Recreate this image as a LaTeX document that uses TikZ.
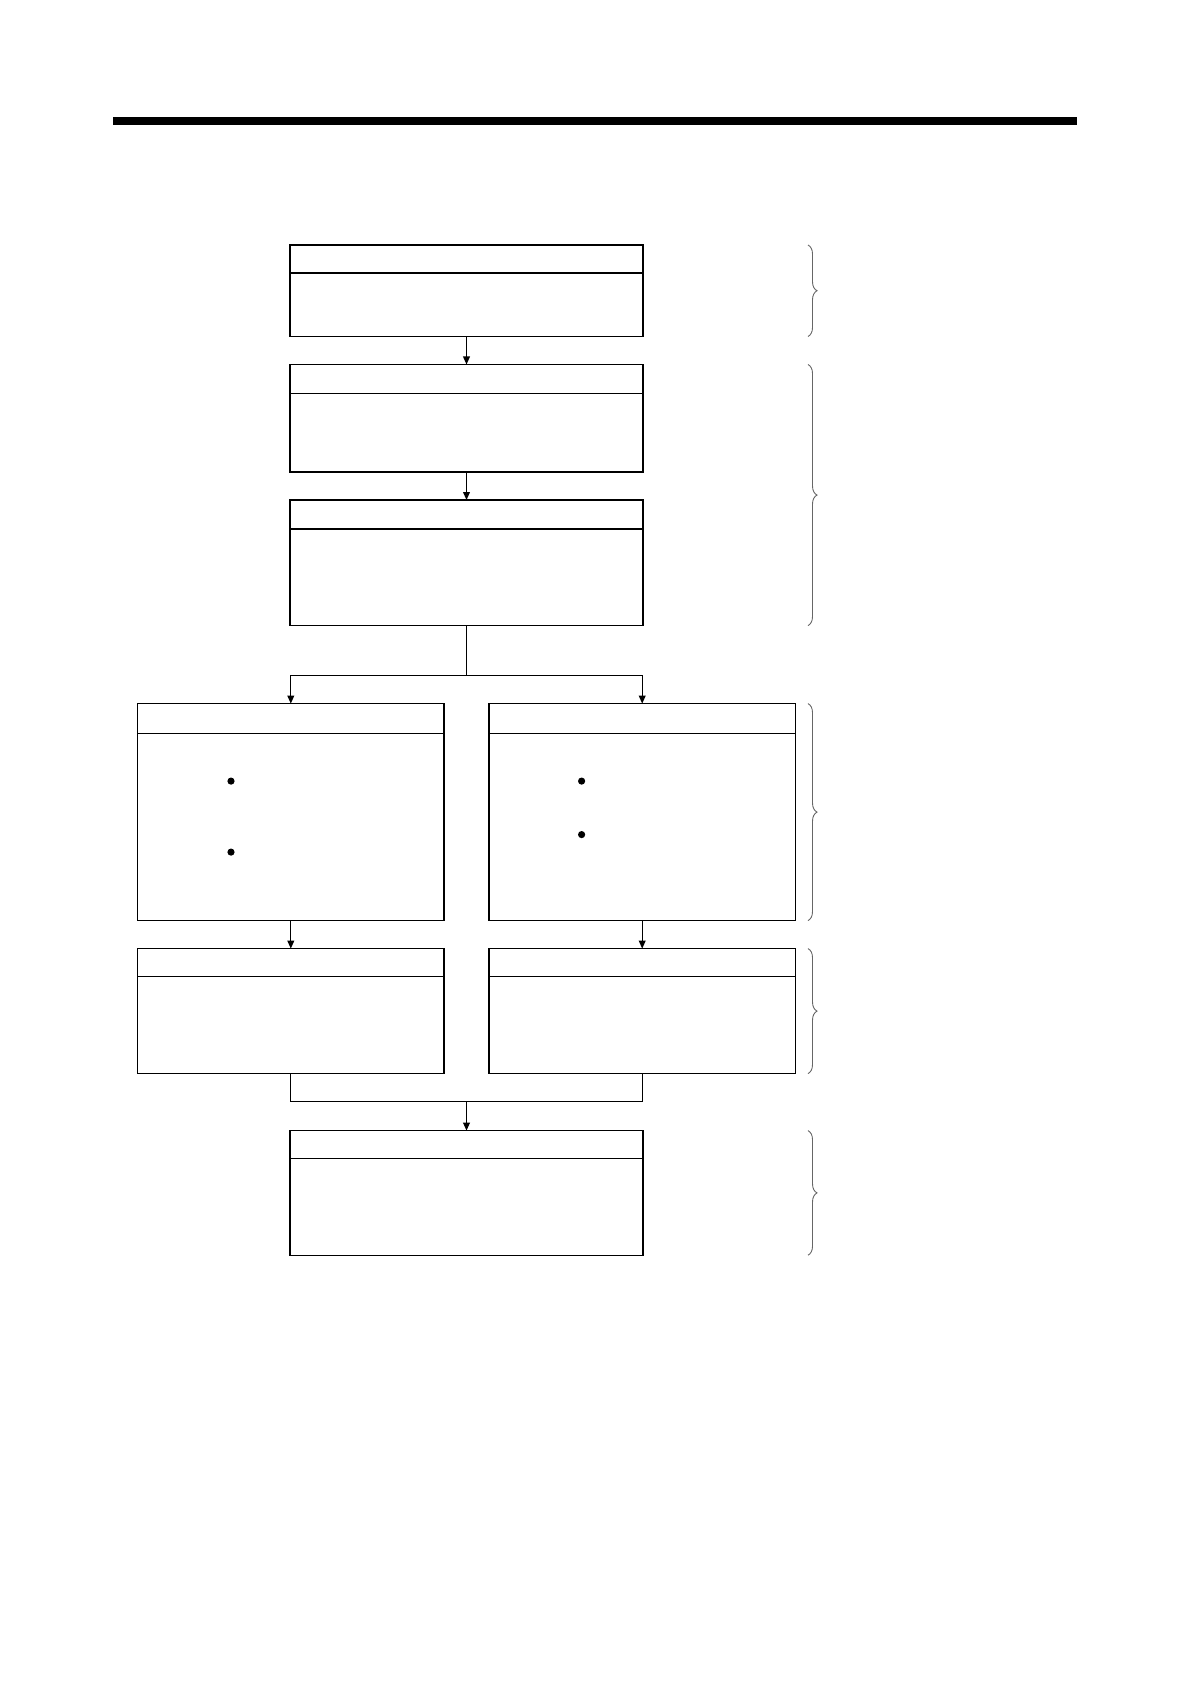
\documentclass[tikz,border=0pt]{standalone}
\usepackage{tikz}
\usetikzlibrary{positioning, arrows.meta, calc, decorations.pathreplacing}

\begin{document}
\begin{tikzpicture}[x=0.5pt, y=0.5pt]
	% Define styles
	\tikzset{
		wide/.style={rectangle, draw, line width=0.6pt, minimum width=176.5pt, inner sep=0pt, outer sep=0pt},
		narrow/.style={rectangle, draw, line width=0.6pt, minimum width=153.2pt, inner sep=0pt, outer sep=0pt},
		head/.style={draw, line width=0.6pt},
		line/.style={draw, line width=0.6pt, -{Triangle[length=4pt, width=3.4pt]}},
		link/.style={draw, line width=0.6pt},
		dot/.style={circle, fill, inner sep=0pt, minimum size=3.6pt},
		curly/.style={draw, gray!80!black, line width=0.45pt, decorate, decoration={brace, amplitude=4.5pt}}
	}
	\useasboundingbox (0,0) rectangle (1190,-1684);
	
	% Top rule
	\fill (113,-117) rectangle (1077,-125);
	
	% Nodes
	\node[wide, minimum height=45.75pt, anchor=north] (b1) at (466.5,-245) {};
	\node[wide, minimum height=53.75pt, below=14pt of b1] (b2) {};
	\node[wide, minimum height=62.8pt, below=14pt of b2] (b3) {};
	
	\node[narrow, minimum height=108.5pt, below left=39pt and 11.25pt of b3.south] (b4l) {};
	\node[narrow, minimum height=108.5pt, below right=39pt and 11.25pt of b3.south] (b4r) {};
	
	\node[narrow, minimum height=62.5pt, below=14pt of b4l] (b5l) {};
	\node[narrow, minimum height=62.5pt, below=14pt of b4r] (b5r) {};
	
	\coordinate (mid) at ($(b5l.south)!0.5!(b5r.south)$);
	\node[wide, minimum height=62.3pt, below=28.5pt of mid] (b6) {};
	
	% Header lines
	\draw[head] ([yshift=-14pt]b1.north west) -- ([yshift=-14pt]b1.north east);
	\draw[head] ([yshift=-14.5pt]b2.north west) -- ([yshift=-14.5pt]b2.north east);
	\draw[head] ([yshift=-14.5pt]b3.north west) -- ([yshift=-14.5pt]b3.north east);
	\draw[head] ([yshift=-15pt]b4l.north west) -- ([yshift=-15pt]b4l.north east);
	\draw[head] ([yshift=-15pt]b4r.north west) -- ([yshift=-15pt]b4r.north east);
	\draw[head] ([yshift=-14pt]b5l.north west) -- ([yshift=-14pt]b5l.north east);
	\draw[head] ([yshift=-14pt]b5r.north west) -- ([yshift=-14pt]b5r.north east);
	\draw[head] ([yshift=-14pt]b6.north west) -- ([yshift=-14pt]b6.north east);
	
	% Bullets
	\node[dot] (d1) at ([xshift=46.7pt, yshift=-38.75pt]b4l.north west) {};
	\node[dot] (d2) at ([xshift=46.7pt, yshift=-74.25pt]b4l.north west) {};
	\node[dot] (d3) at ([xshift=46.3pt, yshift=-38.75pt]b4r.north west) {};
	\node[dot] (d4) at ([xshift=46.3pt, yshift=-65.5pt]b4r.north west) {};
	
	% Arrows
	\draw[line] (b1) -- (b2);
	\draw[line] (b2) -- (b3);
	
	\coordinate (split) at ([yshift=14pt]b4l.north -| b3.south);
	\draw[link] (b3.south) -- (split);
	\draw[line] (split) -| (b4l.north);
	\draw[line] (split) -| (b4r.north);
	
	\draw[line] (b4l) -- (b5l);
	\draw[line] (b4r) -- (b5r);
	
	\coordinate (merge) at ([yshift=-14pt]mid);
	\draw[link] (b5l.south) |- (merge);
	\draw[link] (b5r.south) |- (merge);
	\draw[line] (merge) -- (b6);
	
	% Braces
	\coordinate (bx) at (808,0);
	\draw[curly] (b1.north -| bx) -- (b1.south -| bx);
	\draw[curly] (b2.north -| bx) -- (b3.south -| bx);
	\draw[curly] (b4r.north -| bx) -- (b4r.south -| bx);
	\draw[curly] (b5r.north -| bx) -- (b5r.south -| bx);
	\draw[curly] (b6.north -| bx) -- (b6.south -| bx);
	
\end{tikzpicture}
\end{document}
